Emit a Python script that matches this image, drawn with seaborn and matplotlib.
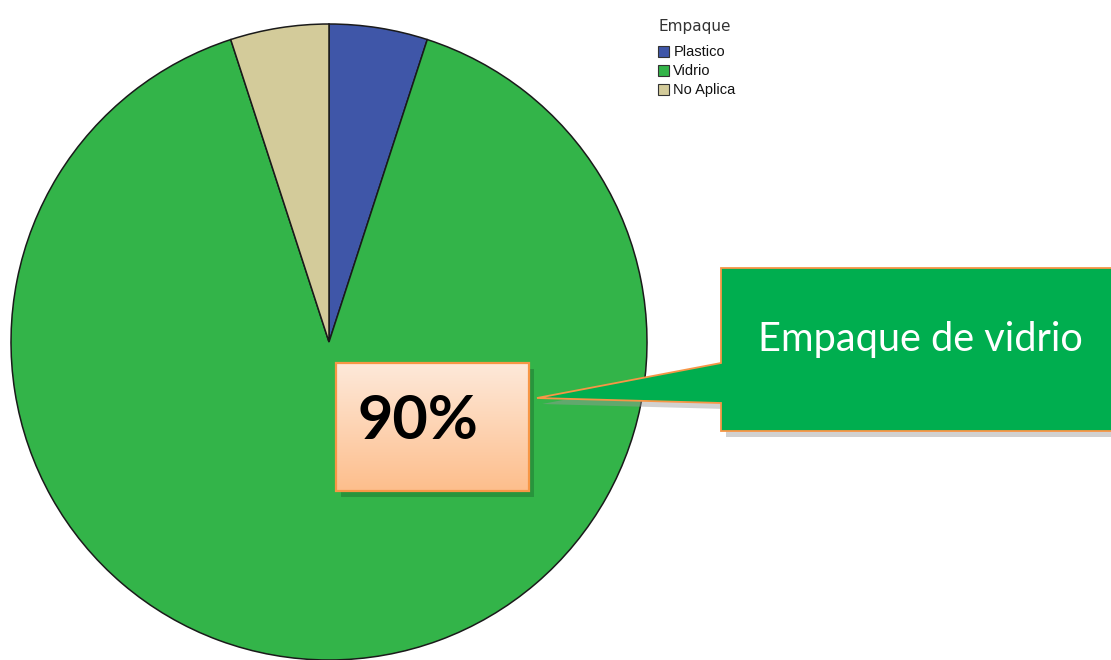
import numpy as np
import matplotlib
matplotlib.use("Agg")
import matplotlib.pyplot as plt
import seaborn as sns
from matplotlib.patches import Polygon, Rectangle, Patch

# Packaging type shares (%)
categories = ["Plastico", "Vidrio", "No Aplica"]
shares = [5, 90, 5]
legend_title = "Empaque"
highlight_label = "90%"
callout_text = "Empaque de vidrio"

sns.set_theme(style="white")
palette = ["#3F56A8", "#33B449", "#D3CB9A"]

W, H = 1111, 660
fig = plt.figure(figsize=(W / 100, H / 100), dpi=100)
ax = fig.add_axes([0, 0, 1, 1])
ax.set_xlim(0, W)
ax.set_ylim(0, H)
ax.set_aspect("equal")
ax.axis("off")

def py(y):
    """convert a top-down pixel row to axis y"""
    return H - y

# Pie chart
wedges, _ = ax.pie(
    shares, colors=palette, startangle=90, counterclock=False,
    center=(329, py(342)), radius=318,
    wedgeprops=dict(edgecolor="#1a1a1a", linewidth=1.1),
)
ax.set_xlim(0, W)
ax.set_ylim(0, H)

# Legend: title drawn as text, entries via legend
ax.text(658, py(26), legend_title, family="DejaVu Sans", fontsize=11,
        color="#333333", ha="left", va="center")
handles = [Patch(facecolor=c, edgecolor="#333333", linewidth=0.8, label=l)
           for c, l in zip(palette, categories)]
leg = ax.legend(handles=handles, loc="upper left",
                bbox_to_anchor=(658 / W, 1 - 45.5 / H), frameon=False,
                prop=dict(family="Liberation Sans", size=10.5),
                handlelength=0.75, handleheight=0.75, handletextpad=0.3,
                labelspacing=0.34, borderaxespad=0, borderpad=0)
for t in leg.get_texts():
    t.set_color("#111111")

# Speech callout (green) with shadow
callout_pts = [(721, 268), (1115, 268), (1115, 431), (721, 431),
               (721, 403), (537, 398), (721, 363)]
shadow = Polygon([(x + 5, py(y + 6)) for x, y in callout_pts], closed=True,
                 facecolor="#9a9a9a", edgecolor="none", alpha=0.45, zorder=3)
ax.add_patch(shadow)
callout = Polygon([(x, py(y)) for x, y in callout_pts], closed=True,
                  facecolor="#00AE4F", edgecolor="#F79646", linewidth=1.3, zorder=4)
ax.add_patch(callout)
ax.text(920.5, py(339), callout_text, color="white", family="Lato",
        fontsize=28.6, ha="center", va="center", zorder=5)

# Highlight box with gradient fill
bx0, by0, bx1, by1 = 336, 363, 529, 491
ax.add_patch(Rectangle((bx0 + 5, py(by1 + 6)), bx1 - bx0, by1 - by0,
                       facecolor="#1f7a33", edgecolor="none", alpha=0.55, zorder=5))
grad = np.linspace(0, 1, 256)[:, None]
top = np.array([0xFE, 0xE9, 0xDA]) / 255
bot = np.array([0xFD, 0xBE, 0x8C]) / 255
img = top[None, None, :] * (1 - grad[..., None]) + bot[None, None, :] * grad[..., None]
ax.imshow(img, extent=(bx0, bx1, py(by1), py(by0)), origin="upper",
          aspect="auto", zorder=6)
ax.add_patch(Rectangle((bx0, py(by1)), bx1 - bx0, by1 - by0,
                       facecolor="none", edgecolor="#F79646", linewidth=1.6, zorder=7))
ax.text(358, py(421), highlight_label, color="black", family="Lato",
        fontweight="bold", fontsize=44, ha="left", va="center", zorder=8)

ax.set_xlim(0, W)
ax.set_ylim(0, H)
fig.savefig("out.png", dpi=100)
